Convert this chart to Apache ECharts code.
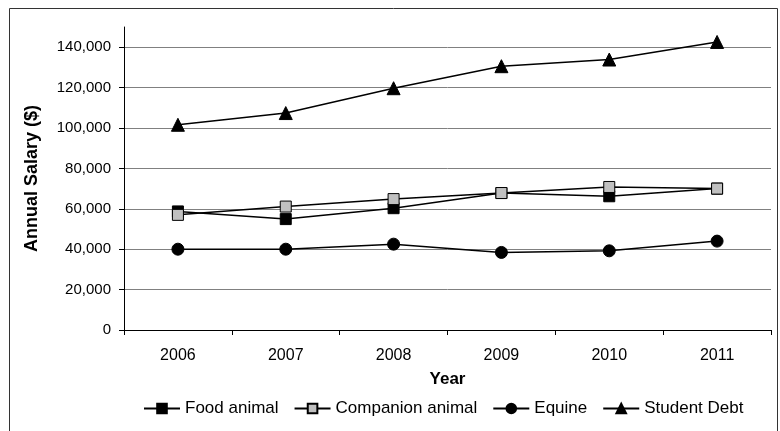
<!DOCTYPE html>
<html>
<head>
<meta charset="utf-8">
<script src="https://cdn.jsdelivr.net/npm/echarts@6/dist/echarts.min.js"></script>
<style>
  html, body { margin: 0; padding: 0; background: #fff; }
  #chart { width: 780px; height: 431px; }
</style>
</head>
<body>
<div id="chart"></div>
<script>
// chart data
const years = ['2006', '2007', '2008', '2009', '2010', '2011']
const foodAnimal = [58700, 54900, 60300, 67800, 66200, 70000]
const companionAnimal = [57000, 61100, 64800, 67800, 70800, 70000]
const equine = [40000, 40000, 42500, 38400, 39200, 44000]
const studentDebt = [101600, 107400, 119700, 130600, 133900, 142600]
const yMax = 150000
const yStep = 20000

const font = '"Liberation Sans", Arial, sans-serif'

const chart = echarts.init(document.getElementById('chart'))

const lineSeries = (name, data, symbol, size, fill) => ({
  name,
  type: 'line',
  data,
  symbol,
  symbolSize: size,
  showSymbol: true,
  lineStyle: { color: '#000', width: 1.5 },
  itemStyle: { color: fill, borderColor: '#000', borderWidth: 1 },
  emphasis: { disabled: true },
  z: 3
})

// hide the grid line at the axis max (150,000)
const gridColors = []
for (let v = 0; v <= yMax; v += yStep) gridColors.push('#808080')
gridColors.push('rgba(0,0,0,0)')

const option = {
  animation: false,
  textStyle: { fontFamily: font },
  graphic: [
    {
      type: 'rect',
      shape: { x: 9.5, y: 8.5, width: 768, height: 440 },
      style: { fill: 'none', stroke: '#333', lineWidth: 1 },
      silent: true
    }
  ],
  grid: { left: 124, right: 9, top: 27, bottom: 101 },
  legend: {
    bottom: 9,
    left: 138,
    itemWidth: 36,
    itemHeight: 12,
    itemGap: 15,
    textStyle: { fontSize: 17, color: '#000', fontFamily: font },
    data: ['Food animal', 'Companion animal', 'Equine', 'Student Debt']
  },
  xAxis: {
    type: 'category',
    data: years,
    boundaryGap: true,
    name: 'Year',
    nameLocation: 'middle',
    nameGap: 41,
    nameTextStyle: { fontSize: 17, fontWeight: 'bold', color: '#000', fontFamily: font },
    axisLine: { lineStyle: { color: '#000', width: 1 } },
    axisTick: { show: true, length: 5, lineStyle: { color: '#000' } },
    axisLabel: { fontSize: 16, color: '#000', margin: 18, fontFamily: font },
    splitLine: { show: false }
  },
  yAxis: {
    type: 'value',
    min: 0,
    max: yMax,
    interval: yStep,
    name: 'Annual Salary ($)',
    nameLocation: 'middle',
    nameGap: 83,
    nameTextStyle: { fontSize: 18, fontWeight: 'bold', color: '#000', fontFamily: font },
    axisLine: { show: true, lineStyle: { color: '#000', width: 1 } },
    axisTick: { show: true, length: 5, lineStyle: { color: '#000' } },
    axisLabel: {
      fontSize: 15,
      color: '#000',
      margin: 13,
      fontFamily: font,
      showMaxLabel: false,
      formatter: v => (v % yStep === 0 ? v.toLocaleString('en-US') : '')
    },
    splitLine: { show: true, lineStyle: { color: gridColors, width: 1 } }
  },
  series: [
    lineSeries('Food animal', foodAnimal, 'rect', 11, '#000'),
    lineSeries('Companion animal', companionAnimal, 'rect', 11, '#c0c0c0'),
    lineSeries('Equine', equine, 'circle', 12, '#000'),
    lineSeries('Student Debt', studentDebt, 'triangle', 13, '#000')
  ]
}

chart.setOption(option)
</script>
</body>
</html>
